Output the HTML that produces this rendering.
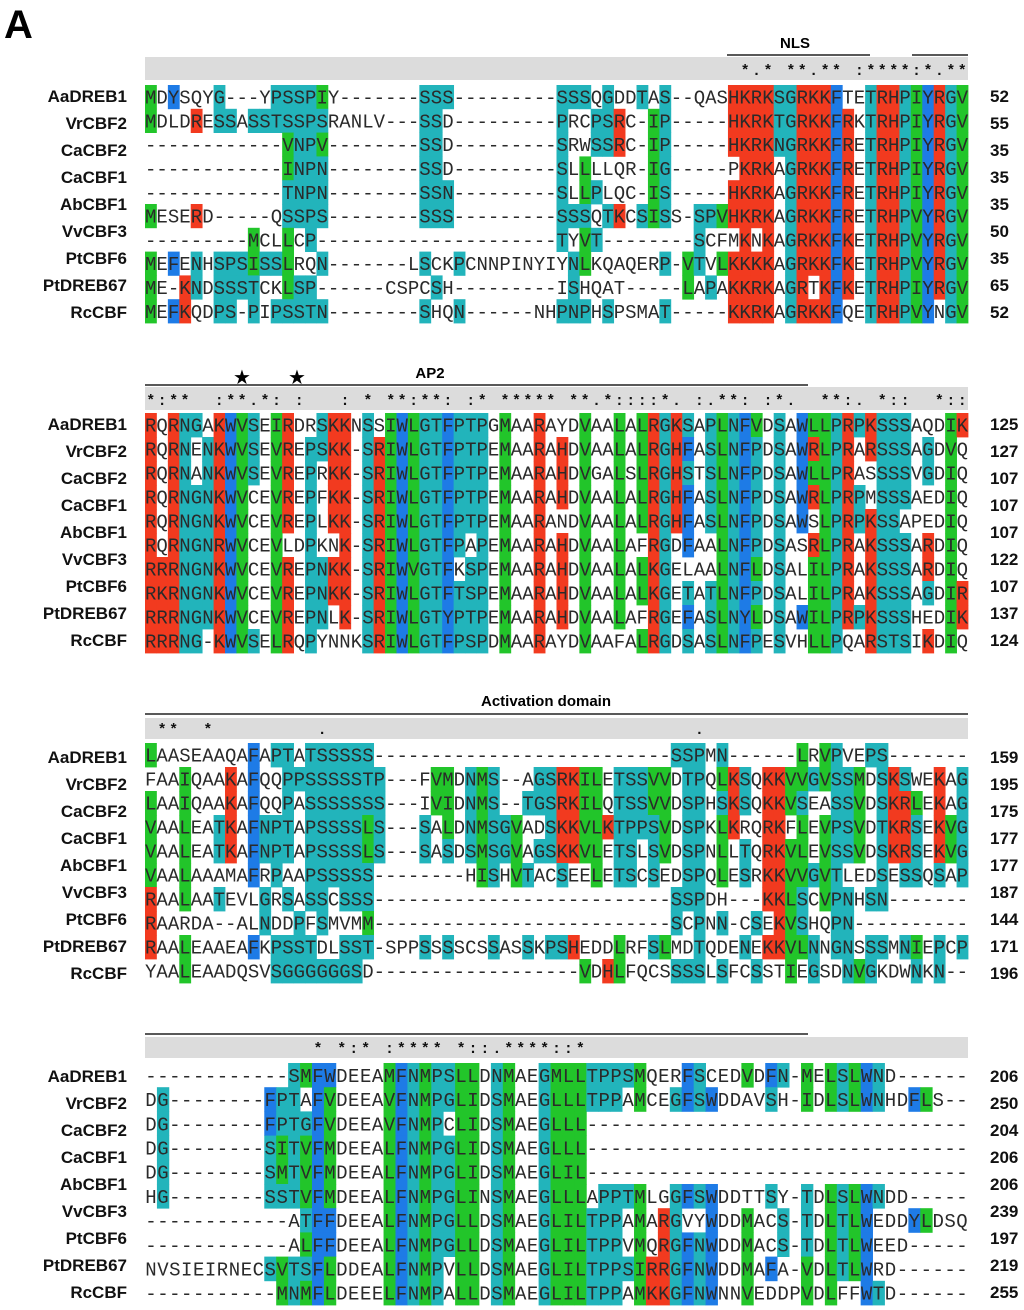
<!DOCTYPE html>
<html><head><meta charset="utf-8">
<style>
html,body{margin:0;padding:0;background:#fff;}
svg{display:block;}
</style></head>
<body>
<svg id="fig" width="1024" height="1310" viewBox="0 0 1024 1310" xmlns="http://www.w3.org/2000/svg">
<text x="4" y="38" font-family="Liberation Sans, sans-serif" font-weight="bold" font-size="40" fill="#000">A</text>
<g id="annot">
  <text x="795" y="48" text-anchor="middle" font-family="Liberation Sans, sans-serif" font-weight="bold" font-size="15">NLS</text>
  <line x1="727" y1="55" x2="870" y2="55" stroke="#222" stroke-width="1.5"/>
  <line x1="912" y1="55" x2="968" y2="55" stroke="#222" stroke-width="1.5"/>
  <text x="430" y="378" text-anchor="middle" font-family="Liberation Sans, sans-serif" font-weight="bold" font-size="15">AP2</text>
  <line x1="145" y1="385" x2="808" y2="385" stroke="#222" stroke-width="1.5"/>
  <text x="242" y="384" text-anchor="middle" font-family="DejaVu Sans, sans-serif" font-size="20">★</text>
  <text x="297" y="384" text-anchor="middle" font-family="DejaVu Sans, sans-serif" font-size="20">★</text>
  <text x="546" y="706" text-anchor="middle" font-family="Liberation Sans, sans-serif" font-weight="bold" font-size="15">Activation domain</text>
  <line x1="145" y1="714" x2="968" y2="714" stroke="#222" stroke-width="1.5"/>
  <line x1="145" y1="1034" x2="808" y2="1034" stroke="#222" stroke-width="1.5"/>
</g>
</svg>
<script>
const names = ["AaDREB1","VrCBF2","CaCBF2","CaCBF1","AbCBF1","VvCBF3","PtCBF6","PtDREB67","RcCBF"];

const seqs1 = [
"MDYSQYG---YPSSPIY-------SSS---------SSSQGDDTAS--QASHKRKSGRKKFTETRHPIYRGV",
"MDLDRESSASSTSSPSRANLV---SSD---------PRCPSRC-IP-----HKRKTGRKKFRKTRHPIYRGV",
"------------VNPV--------SSD---------SRWSSRC-IP-----HKRKNGRKKFRETRHPIYRGV",
"------------INPN--------SSD---------SLLLLQR-IG-----PKRKAGRKKFRETRHPIYRGV",
"------------TNPN--------SSN---------SLLPLQC-IS-----HKRKAGRKKFRETRHPIYRGV",
"MESERD-----QSSPS--------SSS---------SSSQTKCSISS-SPVHKRKAGRKKFRETRHPVYRGV",
"---------MCLLCP---------------------TYVT--------SCFMKNKAGRKKFKETRHPVYRGV",
"MEFENHSPSISSLRQN-------LSCKPCNNPINYIYNLKQAQERP-VTVLKKKKAGRKKFKETRHPVYRGV",
"ME-KNDSSSTCKLSP------CSPCSH---------ISHQAT-----LAPAKKRKAGRTKFKETRHPIYRGV",
"MEFKQDPS-PIPSSTN--------SHQN------NHPNPHSPSMAT-----KKRKAGRKKFQETRHPVYNGV"];
const seqs2 = [
"RQRNGAKWVSEIRDRSKKNSSIWLGTFPTPGMAARAYDVAALALRGKSAPLNFVDSAWLLPRPKSSSAQDIK",
"RQRNENKWVSEVREPSKK-SRIWLGTFPTPEMAARAHDVAALALRGHFASLNFPDSAWRLPRARSSSAGDVQ",
"RQRNANKWVSEVREPRKK-SRIWLGTFPTPEMAARAHDVGALSLRGHSTSLNFPDSAWLLPRASSSSVGDIQ",
"RQRNGNKWVCEVREPFKK-SRIWLGTFPTPEMAARAHDVAALALRGHFASLNFPDSAWRLPRPMSSSAEDIQ",
"RQRNGNKWVCEVREPLKK-SRIWLGTFPTPEMAARANDVAALALRGHFASLNFPDSAWSLPRPKSSAPEDIQ",
"RQRNGNRWVCEVLDPKNK-SRIWLGTFPAPEMAARAHDVAALAFRGDFAALNFPDSASRLPRAKSSSARDIQ",
"RRRNGNKWVCEVREPNKK-SRIWVGTFKSPEMAARAHDVAALALKGELAALNFLDSALILPRAKSSSARDIQ",
"RKRNGNKWVCEVREPNKK-SRIWLGTFTSPEMAARAHDVAALALKGETATLNFPDSALILPRAKSSSAGDIR",
"RRRNGNKWVCEVREPNLK-SRIWLGTYPTPEMAARAHDVAALAFRGEFASLNYLDSAWILPRPKSSSHEDIK",
"RRRNG-KWVSELRQPYNNKSRIWLGTFPSPDMAARAYDVAAFALRGDSASLNFPESVHLLPQARSTSIKDIQ"];
const seqs3 = [
"LAASEAAQAFAPTATSSSSS--------------------------SSPMN------LRVPVEPS-------",
"FAAIQAAKAFQQPPSSSSSTP---FVMDNMS--AGSRKILETSSVVDTPQLKSQKKVVGVSSMDSKSWEKAG",
"LAAIQAAKAFQQPASSSSSSS---IVIDNMS--TGSRKILQTSSVVDSPHSKSQKKVSEASSVDSKRLEKAG",
"VAALEATKAFNPTAPSSSSLS---SALDNMSGVADSKKVLKTPPSVDSPKLKRQRKFLEVPSVDTKRSEKVG",
"VAALEATKAFNPTAPSSSSLS---SASDSMSGVAGSKKVLETSLSVDSPNLLTQRKVLEVSSVDSKRSEKVG",
"VAALAAAMAFRPAAPSSSSS--------HISHVTACSEELETSCSEDSPQLESRKKVVGVTLEDSESSQSAP",
"RAALAATEVLGRSASSCSSS--------------------------SSPDH---KKLSCVPNHSN-------",
"RAARDA--ALNDDPFSMVMM--------------------------SCPNN-CSEKVSHQPN----------",
"RAALEAAEAFKPSSTDLSST-SPPSSSSCSSASSKPSHEDDLRFSLMDTQDENEKKVLNNGNSSSMNIEPCP",
"YAALEAADQSVSGGGGGGSD------------------VDHLFQCSSSSLSFCSSTIEGSDNVGKDWNKN--"];
const seqs4 = [
"------------SMFWDEEAMFNMPSLLDNMAEGMLLTPPSMQERFSCEDVDFN-MELSLWND------",
"DG--------FPTAFVDEEAVFNMPGLIDSMAEGLLLTPPAMCEGFSWDDAVSH-IDLSLWNHDFLS--",
"DG--------FPTGFVDEEAVFNMPCLIDSMAEGLLL--------------------------------",
"DG--------SITVFMDEEALFNMPGLIDSMAEGLLL--------------------------------",
"DG--------SMTVFMDEEALFNMPGLIDSMAEGLIL--------------------------------",
"HG--------SSTVFMDEEALFNMPGLINSMAEGLLLAPPTMLGGFSWDDTTSY-TDLSLWNDD-----",
"------------ATFFDEEALFNMPGLLDSMAEGLILTPPAMARGVYWDDMACS-TDLTLWEDDYLDSQ",
"------------ALFFDEEALFNMPGLLDSMAEGLILTPPVMQRGFNWDDMACS-TDLTLWEED-----",
"NVSIEIRNECSVTSFLDDEALFNMPVLLDSMAEGLILTPPSIRRGFNWDDMAFA-VDLTLWRD------",
"-----------MNMFLDEEELFNMPALLDSMAEGLILTPPAMKKGFNWNNVEDDPVDLFFWTD------"];

const cons1 = " ".repeat(51) + " *.* **.** :****:*.**";
const cons2 = "*:**  :**.*: :   : * **:**: :* ***** **.*::::*. :.**: :*.  **:. *::  *::";
const cons3 = " **  *         .                                .                       ";
const cons4 = "              * *:* :**** *::.****::*                                ";

const nums1 = [52,55,35,35,35,50,35,65,52];
const nums2 = [125,127,107,107,107,122,107,137,124];
const nums3 = [159,195,175,177,177,187,144,171,196];
const nums4 = [206,250,204,206,206,239,197,219,255];

const blocks = [
 {seqs:seqs1, cons:cons1, nums:nums1, barTop:57, barH:23, rowTop:85, pitch:23.8, nameY:96, left:145, right:968},
 {seqs:seqs2, cons:cons2, nums:nums2, barTop:387, barH:23, rowTop:413, pitch:24, nameY:424, left:145, right:968},
 {seqs:seqs3, cons:cons3, nums:nums3, barTop:718, barH:21, rowTop:743, pitch:24, nameY:757, left:145, right:968},
 {seqs:seqs4, cons:cons4, nums:nums4, barTop:1037, barH:21, rowTop:1063, pitch:24.2, nameY:1076, left:145, right:968}
];

const COL = {red:"#f23a1f", blue:"#1e7be6", green:"#22c52a", teal:"#22b4bb"};
const GROUP = {K:"red",R:"red",H:"red",F:"blue",W:"blue",Y:"blue",I:"green",L:"green",V:"green",M:"green",S:"teal",T:"teal",P:"teal",N:"teal",G:"teal"};

const NS = "http://www.w3.org/2000/svg";
const svg = document.getElementById("fig");
function mk(tag, attrs){const e=document.createElementNS(NS,tag);for(const k in attrs)e.setAttribute(k,attrs[k]);return e;}

blocks.forEach((b, bi) => {
  const g = mk("g", {});
  
  
  svg.appendChild(g);
  const ncol = b.seqs[0].length;
  const cw = (b.right - b.left) / ncol;
  const xOf = c => b.left + c * cw;
  const bar = mk("rect", {x:b.left, y:b.barTop, width:b.right-b.left, height:b.barH, fill:"#dcdcdc"});
  
  
  g.appendChild(bar);
  for (let c = 0; c < b.cons.length; c++) {
    const ch = b.cons[c];
    if (ch === " ") continue;
    const t = mk("text", {x:xOf(c)+cw/2, y:b.barTop+b.barH-5, "text-anchor":"middle", "font-family":"Liberation Mono, monospace", "font-weight":"bold", "font-size":"15", fill:"#111"});
    
    
    t.textContent = ch;
    g.appendChild(t);
  }
  const colColors = [];
  for (let c = 0; c < ncol; c++) {
    const cnt = {}; let nonGap = 0;
    b.seqs.forEach(s => { const ch = s[c]; if (ch && ch !== "-") { nonGap++; const gr = GROUP[ch]; if (gr) cnt[gr] = (cnt[gr]||0)+1; } });
    colColors.push({cnt, nonGap});
  }
  b.seqs.forEach((s, r) => {
    const y = b.rowTop + r * b.pitch;
    for (let c = 0; c < s.length; c++) {
      const ch = s[c];
      const gr = GROUP[ch];
      if (gr) {
        const info = colColors[c];
        const n = info.cnt[gr] || 0;
        if (n >= 2 && n / info.nonGap >= 0.25) {
          const rc = mk("rect", {x:xOf(c), y:y, width:cw+0.4, height:b.pitch+0.4, fill:COL[gr]});
          
          
          g.appendChild(rc);
        }
      }
    }
    const t = mk("text", {y:y + b.pitch*0.78, "font-family":"Liberation Mono, monospace", "font-size":"19", fill:"#2a2a2a"});
    
    
    const xs = []; for (let c = 0; c < s.length; c++) xs.push((xOf(c)+cw/2).toFixed(1));
    t.setAttribute("x", xs.join(" "));
    t.setAttribute("text-anchor", "middle");
    t.textContent = s;
    g.appendChild(t);
  });
  names.forEach((nm, i) => {
    const t = mk("text", {x:127, y:b.nameY + i*27 + 6, "text-anchor":"end", "font-family":"Liberation Sans, sans-serif", "font-weight":"bold", "font-size":"17", fill:"#111"});
    
    
    t.textContent = nm;
    g.appendChild(t);
    const n = mk("text", {x:990, y:b.nameY + i*27 + 6, "font-family":"Liberation Sans, sans-serif", "font-weight":"bold", "font-size":"17", fill:"#111"});
    
    
    n.textContent = b.nums[i];
    g.appendChild(n);
  });
});
</script>
</body></html>
